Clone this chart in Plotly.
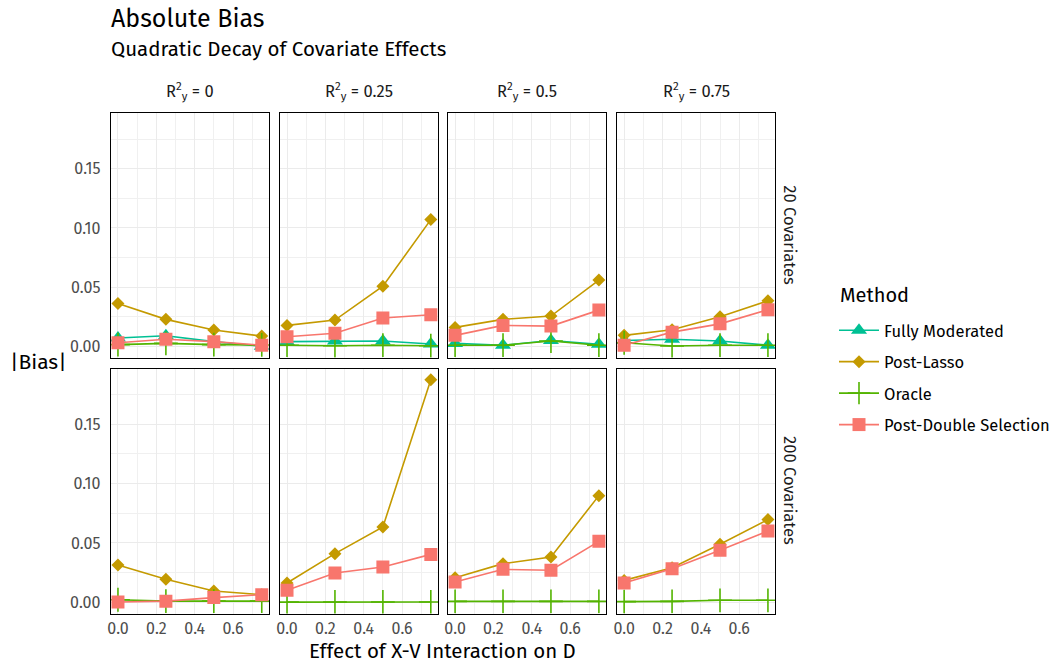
import plotly.graph_objects as go

# ---------------- data ----------------
x_vals = [0.0, 0.25, 0.5, 0.75]
r2_labels = ["0", "0.25", "0.5", "0.75"]
cov_labels = ["20 Covariates", "200 Covariates"]
methods = ["Fully Moderated", "Post-Lasso", "Oracle", "Post-Double Selection"]
colors = ["#00C094", "#C49A00", "#53B400", "#F8766D"]

# 20 covariates: one list per R2_y panel (0, 0.25, 0.5, 0.75)
fm_20 = [[0.007, 0.009, 0.004, 0.000],
         [0.004, 0.0045, 0.0045, 0.002],
         [0.0025, 0.001, 0.0050, 0.0017],
         [0.005, 0.006, 0.0045, 0.001]]
pl_20 = [[0.0362, 0.0228, 0.0138, 0.0087],
         [0.0177, 0.0222, 0.0508, 0.1070],
         [0.0160, 0.0228, 0.0256, 0.0560],
         [0.0093, 0.0140, 0.0250, 0.0385]]
or_20 = [[0.0015, 0.0025, 0.0015, 0.0012],
         [0.001, 0.0005, 0.001, 0.0005],
         [0.001, 0.001, 0.0045, 0.001],
         [0.003, 0.0003, 0.001, 0.001]]
pds_20 = [[0.003, 0.006, 0.004, 0.001],
          [0.0081, 0.0110, 0.0240, 0.0267],
          [0.0093, 0.0177, 0.0171, 0.0306],
          [0.0010, 0.0120, 0.0190, 0.0310]]

# 200 covariates (Fully Moderated not estimated)
fm_200 = [[None] * 4, [None] * 4, [None] * 4, [None] * 4]
pl_200 = [[0.0315, 0.0194, 0.0096, 0.0065],
          [0.0163, 0.0410, 0.0635, 0.1876],
          [0.0208, 0.0326, 0.0382, 0.0899],
          [0.0185, 0.0292, 0.0489, 0.0697]]
or_200 = [[0.0022, 0.0010, 0.0010, 0.0010],
          [0.0002, 0.0003, 0.0003, 0.0003],
          [0.0008, 0.0008, 0.0008, 0.0008],
          [0.0006, 0.0008, 0.0017, 0.0017]]
pds_200 = [[0.0003, 0.0010, 0.0040, 0.0065],
           [0.0101, 0.0247, 0.0298, 0.0404],
           [0.0171, 0.0278, 0.0270, 0.0514],
           [0.0163, 0.0284, 0.0438, 0.0601]]

data_rows = [[fm_20, pl_20, or_20, pds_20], [fm_200, pl_200, or_200, pds_200]]

# ---------------- layout geometry ----------------
W, H = 1055, 663
col_px = [(108, 268), (279, 439), (449, 609), (620, 780)]
row_px = [(113, 357.5), (368.5, 613.5)]
FONT = "Fira Sans, Noto Sans, sans-serif"

symbols = ["triangle-up", "diamond", "cross-thin", "square"]
sizes = [14, 10, 17, 13]

fig = go.Figure()
layout = {}
for r in range(2):
    for c in range(4):
        idx = r * 4 + c + 1
        xa = "x" if idx == 1 else f"x{idx}"
        ya = "y" if idx == 1 else f"y{idx}"
        for m in range(4):
            yv = data_rows[r][m][c]
            fig.add_trace(go.Scatter(
                x=x_vals, y=yv, xaxis=xa, yaxis=ya,
                mode="lines+markers", name=methods[m],
                legendgroup=methods[m], showlegend=(idx == 1),
                line=dict(color=colors[m], width=1.6),
                marker=dict(symbol=symbols[m], size=sizes[m], color=colors[m],
                            line=dict(color=colors[m], width=1.6 if m == 2 else 0)),
                cliponaxis=True,
            ))
        x0, x1 = col_px[c]
        y0, y1 = row_px[r]
        common = dict(showline=True, mirror=True, linecolor="black", linewidth=1.2,
                      gridcolor="#EBEBEB", gridwidth=1.1, zeroline=False, ticks="",
                      tickfont=dict(family=FONT, size=16, color="#4D4D4D"))
        layout["xaxis" if idx == 1 else f"xaxis{idx}"] = dict(
            domain=[x0 / W, x1 / W], anchor=ya, range=[-0.0375, 0.7875],
            tickvals=[0, 0.2, 0.4, 0.6], ticktext=["0.0", "0.2", "0.4", "0.6"],
            minor=dict(tickvals=[0.1, 0.3, 0.5, 0.7], showgrid=True, gridcolor="#F0F0F0", gridwidth=0.6),
            showticklabels=(r == 1), ticklabelstandoff=0, **common)
        layout["yaxis" if idx == 1 else f"yaxis{idx}"] = dict(
            domain=[1 - y1 / H, 1 - y0 / H], anchor=xa, range=[-0.0094, 0.1970],
            tickvals=[0, 0.05, 0.10, 0.15], ticktext=["0.00", "0.05", "0.10", "0.15"],
            minor=dict(tickvals=[0.025, 0.075, 0.125, 0.175], showgrid=True, gridcolor="#F0F0F0", gridwidth=0.6),
            showticklabels=(c == 0), ticklabelstandoff=6, **common)

ann = []
# strip labels (top)
for c in range(4):
    x0, x1 = col_px[c]
    ann.append(dict(text=f"R<sup>2</sup><sub>y</sub> = {r2_labels[c]}", x=(x0 + x1) / 2 / W, y=1 - 91 / H,
                    xref="paper", yref="paper", showarrow=False, xanchor="center", yanchor="middle",
                    font=dict(family=FONT, size=16.5, color="#1A1A1A")))
# strip labels (right)
for r in range(2):
    y0, y1 = row_px[r]
    ann.append(dict(text=cov_labels[r], x=795 / W, y=1 - (y0 + y1) / 2 / H, textangle=90,
                    xref="paper", yref="paper", showarrow=False, xanchor="center", yanchor="middle",
                    font=dict(family=FONT, size=16.5, color="#1A1A1A")))
# titles
ann.append(dict(text="Absolute Bias", x=106 / W, y=1 - 19 / H, xref="paper", yref="paper",
                showarrow=False, xanchor="left", yanchor="middle",
                font=dict(family=FONT, size=25, color="black")))
ann.append(dict(text="Quadratic Decay of Covariate Effects", x=106 / W, y=1 - 49 / H, xref="paper", yref="paper",
                showarrow=False, xanchor="left", yanchor="middle",
                font=dict(family=FONT, size=20.5, color="black")))
ann.append(dict(text="|Bias|", x=35 / W, y=1 - 362 / H, xref="paper", yref="paper",
                showarrow=False, xanchor="center", yanchor="middle",
                font=dict(family=FONT, size=21, color="black")))
ann.append(dict(text="Effect of X-V Interaction on D", x=444 / W, y=1 - 651 / H, xref="paper", yref="paper",
                showarrow=False, xanchor="center", yanchor="middle",
                font=dict(family=FONT, size=20.5, color="black")))
# legend title
ann.append(dict(text="Method", x=844 / W, y=1 - 295 / H, xref="paper", yref="paper",
                showarrow=False, xanchor="left", yanchor="middle",
                font=dict(family=FONT, size=20, color="black")))

fig.update_layout(
    **layout,
    width=W, height=H,
    margin=dict(l=0, r=0, t=0, b=0),
    paper_bgcolor="white", plot_bgcolor="white",
    annotations=ann,
    legend=dict(x=840 / W, y=1 - 313 / H, xanchor="left", yanchor="top",
                font=dict(family=FONT, size=16.5, color="black"),
                traceorder="grouped", tracegroupgap=7, itemwidth=40,
                bgcolor="rgba(0,0,0,0)"),
    font=dict(family=FONT),
)

fig.write_html("out.html", config={"displayModeBar": False},
               post_script="document.body.style.margin='0';document.body.style.overflow='hidden';")
